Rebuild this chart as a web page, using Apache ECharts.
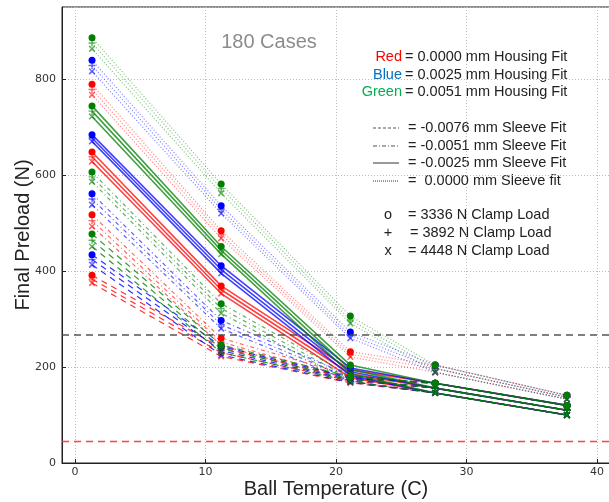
<!DOCTYPE html>
<html><head><meta charset="utf-8">
<script src="https://cdn.jsdelivr.net/npm/echarts@6/dist/echarts.min.js"></script>
<style>html,body{margin:0;padding:0;background:#fff}#c{width:609px;height:502px}</style>
</head><body><div id="c"></div>
<script>
// Ball temperatures (C)
const temps = [1.3, 11.2, 21.1, 27.6, 37.7];
const xTicks = [0, 10, 20, 30, 40];
const yTickStep = 200;
const refLines = [267, 44.5];

// rows: clamp load o (3336 N), + (3892 N), x (4448 N)
// sleeve fit 0.0000 mm (dotted)
const red_dotted   = [[789, 484, 232, 204, 141], [778, 476, 226, 197, 137], [767, 468, 221, 189, 133]];
const blue_dotted  = [[839, 536, 273, 204, 141], [828, 528, 266, 197, 137], [816, 520, 260, 189, 133]];
const green_dotted = [[886, 581, 306, 204, 141], [875, 572, 298, 197, 137], [863, 562, 291, 189, 133]];
// sleeve fit -0.0025 mm (solid)
const red_solid    = [[648, 369, 194, 166, 120], [638, 361, 186, 156, 110], [628, 353, 178, 146, 100]];
const blue_solid   = [[684, 411, 198, 166, 120], [677, 403, 190, 156, 110], [670, 395, 182, 146, 100]];
const green_solid  = [[744, 451, 204, 166, 120], [733, 443, 195, 156, 110], [722, 435, 186, 146, 100]];
// sleeve fit -0.0051 mm (dash-dot)
const red_dashdot  = [[517, 260, 182, 166, 120], [505, 252, 176, 156, 110], [493, 245, 170, 146, 100]];
const blue_dashdot = [[561, 297, 182, 166, 120], [550, 288, 176, 156, 110], [538, 280, 170, 146, 100]];
const green_dashdot= [[606, 332, 182, 166, 120], [596, 322, 176, 156, 110], [586, 312, 170, 146, 100]];
// sleeve fit -0.0076 mm (dashed)
const red_dashed   = [[391, 240, 176, 166, 120], [383, 230, 171, 156, 110], [375, 222, 167, 146, 100]];
const blue_dashed  = [[434, 243, 178, 166, 120], [424, 234, 173, 156, 110], [413, 225, 168, 146, 100]];
const green_dashed = [[477, 246, 180, 166, 120], [464, 238, 175, 156, 110], [451, 230, 170, 146, 100]];

const colors = {red: '#ff0000', blue: '#0000ff', green: '#007f00'};
const groups = [
  ['red', 'dashed', red_dashed], ['red', 'dashdot', red_dashdot], ['red', 'solid', red_solid], ['red', 'dotted', red_dotted],
  ['blue', 'dashed', blue_dashed], ['blue', 'dashdot', blue_dashdot], ['blue', 'solid', blue_solid], ['blue', 'dotted', blue_dotted],
  ['green', 'dashed', green_dashed], ['green', 'dashdot', green_dashdot], ['green', 'solid', green_solid], ['green', 'dotted', green_dotted]
];
const dashes = {dashed: [6, 5], dashdot: [4, 3, 1, 3], solid: 'solid', dotted: [1, 2]};
const lineOpacity = {dashed: 0.8, dashdot: 0.6, solid: 0.75, dotted: 0.5};
const plusPath = 'path://M4,0h2v4h4v2h-4v4h-2v-4h-4v-2h4z';
const markers = [
  {symbol: 'circle', size: 7, rotate: 0, op: 1},
  {symbol: plusPath, size: 7, rotate: 0, op: 0.6},
  {symbol: plusPath, size: 8, rotate: 45, op: 0.6}
];

const series = [];
groups.forEach(([c, s, rows]) => {
  rows.forEach((vals, k) => {
    const m = markers[k];
    series.push({
      type: 'line',
      data: temps.map((t, i) => [t, vals[i]]),
      symbol: m.symbol, symbolSize: m.size, symbolRotate: m.rotate,
      showAllSymbol: true,
      lineStyle: {color: colors[c], width: s === 'solid' ? 1.6 : 1.2, type: dashes[s], opacity: lineOpacity[s]},
      itemStyle: {color: colors[c], opacity: m.op},
      emphasis: {disabled: true},
      silent: true,
      z: 3
    });
  });
});
const refColors = ['#444444', '#ff3030'];
refLines.forEach((v, i) => {
  series.push({
    type: 'line', data: [], silent: true, z: 2,
    markLine: {
      symbol: 'none', silent: true, animation: false,
      label: {show: false},
      lineStyle: {color: refColors[i], type: [7, 5], width: i === 0 ? 1.5 : 1.3, opacity: 0.9},
      emphasis: {disabled: true},
      data: [{yAxis: v}]
    }
  });
});

const font = 'Liberation Sans, Arial, sans-serif';
const tc = '#222';
const L = [];
function txt(x, y, s, align, fill, size) {
  L.push({type: 'text', x: x, y: y, silent: true,
    style: {text: s, font: (size || 14.5) + 'px ' + font, fill: fill || tc, textAlign: align || 'left', textVerticalAlign: 'middle'}});
}
function sample(y, dash) {
  L.push({type: 'line', silent: true, shape: {x1: 373, y1: y, x2: 399, y2: y},
    style: {stroke: '#555', lineWidth: 1.2, lineDash: dash}});
}
txt(269, 42, '180 Cases', 'center', '#8c8c8c', 20);
txt(402, 57, 'Red', 'right', '#ff0000');
txt(405, 57, '= 0.0000 mm Housing Fit');
txt(402, 75, 'Blue', 'right', '#0070c0');
txt(405, 75, '= 0.0025 mm Housing Fit');
txt(402, 92, 'Green', 'right', '#00b050');
txt(405, 92, '= 0.0051 mm Housing Fit');
sample(128, [3, 2]); txt(408, 128, '= -0.0076 mm Sleeve Fit');
sample(146, [4, 2, 1, 2]); txt(408, 146, '= -0.0051 mm Sleeve Fit');
sample(163, null); txt(408, 163, '= -0.0025 mm Sleeve Fit');
sample(181, [1, 1]); txt(408, 181, '=  0.0000 mm Sleeve fit');
txt(388, 215, 'o', 'center'); txt(408, 215, '= 3336 N Clamp Load');
txt(388, 233, '+', 'center'); txt(410, 233, '= 3892 N Clamp Load');
txt(388, 251, 'x', 'center'); txt(408, 251, '= 4448 N Clamp Load');

const chart = echarts.init(document.getElementById('c'), null, {renderer: 'canvas'});
chart.setOption({
  animation: false,
  backgroundColor: '#fff',
  grid: {left: 62, right: -1, top: 7, bottom: 39, show: true, borderColor: '#222', borderWidth: 1,
         containLabel: false, outerBoundsMode: 'none'},
  xAxis: {
    type: 'value', min: -1, max: 41,
    name: 'Ball Temperature (C)', nameLocation: 'middle', nameGap: 16, nameMoveOverlap: false,
    nameTextStyle: {fontFamily: font, fontSize: 20, color: '#222'},
    axisLine: {show: true, onZero: false, lineStyle: {color: '#222'}},
    axisTick: {show: true, inside: true, length: 4, customValues: xTicks, lineStyle: {color: '#222'}},
    axisLabel: {customValues: xTicks, fontFamily: 'DejaVu Sans, sans-serif', fontSize: 11, color: '#333', margin: 4},
    splitLine: {show: true, lineStyle: {color: '#bbb', type: [1, 2]}}
  },
  yAxis: {
    type: 'value', min: 0, max: 950, interval: yTickStep,
    name: 'Final Preload (N)', nameLocation: 'middle', nameGap: 29, nameMoveOverlap: false,
    nameTextStyle: {fontFamily: font, fontSize: 20, color: '#222'},
    axisLine: {show: true, onZero: false, lineStyle: {color: '#222'}},
    axisTick: {show: true, inside: true, length: 4, lineStyle: {color: '#222'}},
    axisLabel: {showMaxLabel: false, fontFamily: 'DejaVu Sans, sans-serif', fontSize: 11, color: '#333', margin: 6},
    splitLine: {show: true, lineStyle: {color: '#bbb', type: [1, 2]}}
  },
  series: series,
  graphic: L
});
</script>
</body></html>
